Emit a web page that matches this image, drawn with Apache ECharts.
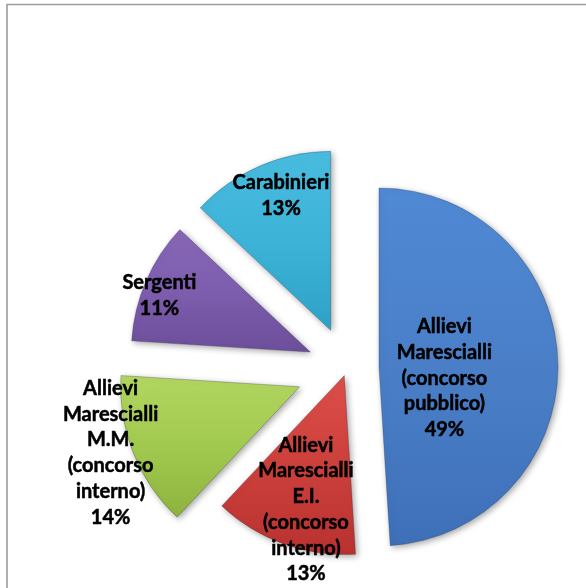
<!DOCTYPE html>
<html><head><meta charset="utf-8">
<script src="https://cdn.jsdelivr.net/npm/echarts@6/dist/echarts.min.js"></script>
<style>html,body{margin:0;padding:0;background:#fff}#c{width:586px;height:588px}</style>
</head><body><div id="c"></div><script>
const categories = [
  'Allievi\nMarescialli\n(concorso\npubblico)',
  'Allievi\nMarescialli\nE.I.\n(concorso\ninterno)',
  'Allievi\nMarescialli\nM.M.\n(concorso\ninterno)',
  'Sergenti',
  'Carabinieri'
];
const values = [49, 13, 14, 11, 13];

const palette = [
  ['#5089D4', '#4A7FC8', '#3E70B8'],
  ['#DC4E49', '#CC403C', '#B8322F'],
  ['#B2D660', '#A2C94F', '#8DB33E'],
  ['#8767B6', '#7D5DAD', '#6C4E9A'],
  ['#48BCDF', '#3DB3D8', '#2EA2C6']
];
const explode = [32, 8, 51, 40, 41];
const labelShift = [[-27, 14], [-7, 47], [-103, 32], [-66, -20], [-13, -50]];

const chart = echarts.init(document.getElementById('c'));

function grad(p) {
  return new echarts.graphic.LinearGradient(0, 0, 0, 1, [
    {offset: 0, color: p[0]}, {offset: 0.5, color: p[1]}, {offset: 1, color: p[2]}
  ]);
}

const series = values.map((_, k) => ({
  type: 'pie',
  silent: true,
  center: [347, 368],
  radius: [0, 179],
  startAngle: 90,
  clockwise: true,
  avoidLabelOverlap: false,
  selectedMode: 'multiple',
  selectedOffset: explode[k],
  percentPrecision: 0,
  animation: false,
  emphasis: {disabled: true},
  labelLine: {show: false},
  labelLayout: {dx: labelShift[k][0], dy: labelShift[k][1]},
  data: values.map((v, i) => ({
    name: categories[i],
    value: v,
    selected: i === k,
    itemStyle: i === k ? {
      color: grad(palette[i]),
      borderColor: 'rgba(20,30,60,0.25)', borderWidth: 1,
      shadowBlur: 6, shadowColor: 'rgba(0,0,0,0.35)', shadowOffsetX: 2, shadowOffsetY: 2
    } : {color: 'rgba(0,0,0,0)'},
    label: i === k ? {
      show: true, position: 'inside', formatter: '{b}\n{d}%',
      fontFamily: 'Lato', fontWeight: 'bold', fontSize: 20, lineHeight: 25.7,
      color: '#000', textBorderColor: '#000', textBorderWidth: 0.5, align: 'center'
    } : {show: false}
  }))
}));

chart.setOption({
  backgroundColor: '#fff',
  graphic: [{
    type: 'rect', shape: {x: 7, y: 4.5, width: 640, height: 640},
    style: {fill: 'none', stroke: '#9c9c9c', lineWidth: 1.6}, silent: true
  }],
  series: series
});
</script></body></html>
